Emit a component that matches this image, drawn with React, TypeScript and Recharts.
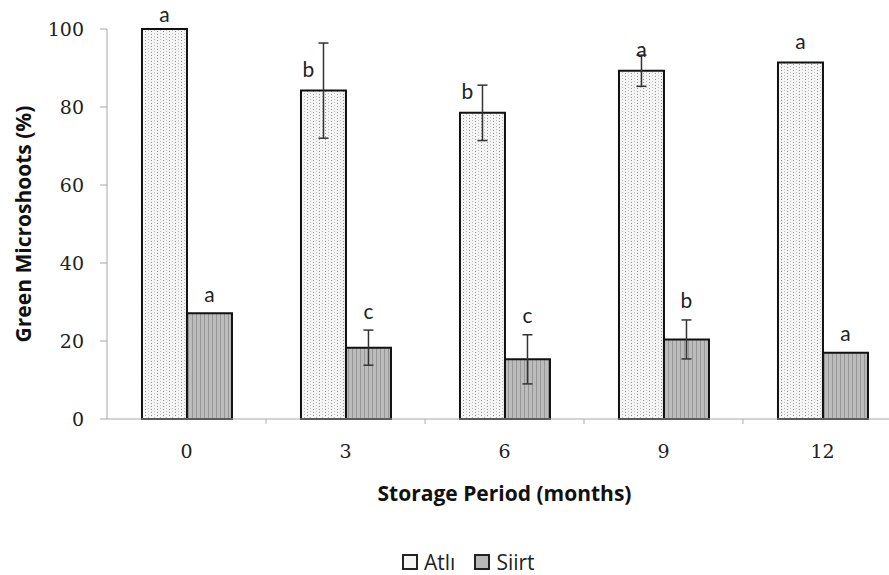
import { Bar, BarChart, ErrorBar, LabelList, Legend, XAxis, YAxis } from 'recharts';

// storage period (months) on the x axis
const months = ['0', '3', '6', '9', '12'];

// green microshoots (%), mean and error per cultivar
const atli = [100, 84.2, 78.5, 89.3, 91.4];
const atliErr = [0, 12.2, 7.1, 4, 0];
const siirt = [27.1, 18.3, 15.3, 20.4, 17.0];
const siirtErr = [0, 4.5, 6.3, 5, 0];

// significance letters
const atliSig = ['a', 'b', 'b', 'a', 'a'];
const siirtSig = ['a', 'c', 'c', 'b', 'a'];

const yTicks = [0, 20, 40, 60, 80, 100];

const data = months.map((month, i) => ({
  month,
  atli: atli[i],
  atliErr: atliErr[i],
  atliSig: atliSig[i],
  siirt: siirt[i],
  siirtErr: siirtErr[i],
  siirtSig: siirtSig[i],
}));

const W = 902;
const H = 575;
const X_TICK_MARGIN = 26;
const SERIF = '"DejaVu Serif", serif';
const SANS = '"Open Sans", Lato, sans-serif';
const LETTER = 'Lato, "Open Sans", sans-serif';

function readBox(props: any) {
  const vb = props.viewBox ?? {};
  return {
    x: props.x ?? vb.x,
    y: props.y ?? vb.y,
    width: props.width ?? vb.width,
    height: props.height ?? vb.height,
  };
}

// letters over the Atlı bars: wide error bars push the letter to the left of the whisker
function AtliLetter(props: any) {
  const { x, y, width } = readBox(props);
  const i = props.index;
  const cx = x + width / 2 - (atliErr[i] > 6 ? 15 : 0);
  const cy = Math.max(y - 22, 13);
  return (
    <text x={cx} y={cy} textAnchor="middle" dominantBaseline="central" fontFamily={LETTER} fontSize={21} fill="#222">
      {props.value}
    </text>
  );
}

// letters over the Siirt bars sit above the whisker cap
function SiirtLetter(props: any) {
  const { x, y, width, height } = readBox(props);
  const i = props.index;
  const pxPerUnit = height / siirt[i];
  const top = y - siirtErr[i] * pxPerUnit;
  return (
    <text x={x + width / 2} y={top - 20} textAnchor="middle" dominantBaseline="central" fontFamily={LETTER} fontSize={21} fill="#222">
      {props.value}
    </text>
  );
}

function MonthTick(props: any) {
  const { x, y, payload, width, visibleTicksCount } = props;
  const half = width / (visibleTicksCount || months.length) / 2;
  const axisY = y - X_TICK_MARGIN;
  return (
    <g>
      <line x1={x + half} y1={axisY} x2={x + half} y2={axisY + 5} stroke="#b0b0b0" />
      <text x={x} y={y} dy="0.71em" textAnchor="middle" fontFamily={SERIF} fontSize={19} fill="#222">
        {payload.value}
      </text>
    </g>
  );
}

function YTitle(props: any) {
  const vb = props.viewBox;
  const cy = vb.y + vb.height / 2;
  return (
    <text x={23} y={cy} transform={`rotate(-90 23 ${cy})`} textAnchor="middle" dominantBaseline="central"
      fontFamily={SANS} fontWeight={700} fontSize={21} fill="#111">
      Green Microshoots (%)
    </text>
  );
}

function XTitle(props: any) {
  const vb = props.viewBox;
  return (
    <text x={vb.x + vb.width / 2} y={vb.y + 74} textAnchor="middle" dominantBaseline="central"
      fontFamily={SANS} fontWeight={700} fontSize={21} fill="#111">
      Storage Period (months)
    </text>
  );
}

const swatchFill = ['#f4f4f4', '#b8b8b8'];

function LegendBox(props: any) {
  const items = props.payload ?? [];
  return (
    <div style={{ display: 'flex', alignItems: 'center', fontFamily: SANS, fontSize: 21, color: '#222' }}>
      {items.map((item: any, i: number) => (
        <div key={item.value} style={{ display: 'flex', alignItems: 'center', marginRight: 19 }}>
          <span style={{
            display: 'inline-block', width: 12, height: 12, border: '2px solid #222',
            background: swatchFill[i], marginRight: 6,
          }} />
          {item.value}
        </div>
      ))}
    </div>
  );
}

export default function App() {
  return (
    <div style={{ position: 'absolute', left: 0, top: 0, width: 889, height: H, overflow: 'hidden', background: '#fff' }}>
      <BarChart width={W} height={H} data={data} margin={{ top: 29, right: 0, bottom: 96, left: 0 }}
        barGap={0} barCategoryGap="22%">
        <defs>
          <pattern id="dots" width="6" height="3" patternUnits="userSpaceOnUse">
            <rect width="6" height="3" fill="#f5f5f5" />
            <rect x="1" y="1" width="1" height="1" fill="#8e8e8e" />
            <rect x="4" y="0" width="1" height="1" fill="#bcbcbc" />
          </pattern>
          <pattern id="stripes" width="4" height="4" patternUnits="userSpaceOnUse">
            <rect width="4" height="4" fill="#bcbcbc" />
            <rect x="0" y="0" width="1" height="4" fill="#979797" />
          </pattern>
        </defs>
        <XAxis dataKey="month" height={60} tickSize={0} tickMargin={X_TICK_MARGIN} tickLine={false}
          axisLine={{ stroke: '#a8a8a8' }} tick={<MonthTick />} interval={0}
          label={{ content: <XTitle /> }} />
        <YAxis width={107} domain={[0, 100]} ticks={yTicks} interval={0}
          axisLine={{ stroke: '#a8a8a8' }} tickLine={{ stroke: '#a8a8a8' }} tickSize={7} tickMargin={16}
          tick={{ fontFamily: SERIF, fontSize: 19, fill: '#222' }}
          label={{ content: <YTitle /> }} />
        <Legend verticalAlign="middle" align="center" layout="horizontal" content={<LegendBox />}
          wrapperStyle={{ top: 548, left: 402, width: 'auto' }} />
        <Bar dataKey="atli" name="Atlı" fill="url(#dots)" stroke="#111" strokeWidth={2} isAnimationActive={false}>
          <ErrorBar dataKey="atliErr" width={5} stroke="#333" strokeWidth={1.5} />
          <LabelList dataKey="atliSig" content={<AtliLetter />} />
        </Bar>
        <Bar dataKey="siirt" name="Siirt" fill="url(#stripes)" stroke="#111" strokeWidth={2} isAnimationActive={false}>
          <ErrorBar dataKey="siirtErr" width={5} stroke="#333" strokeWidth={1.5} />
          <LabelList dataKey="siirtSig" content={<SiirtLetter />} />
        </Bar>
      </BarChart>
    </div>
  );
}
